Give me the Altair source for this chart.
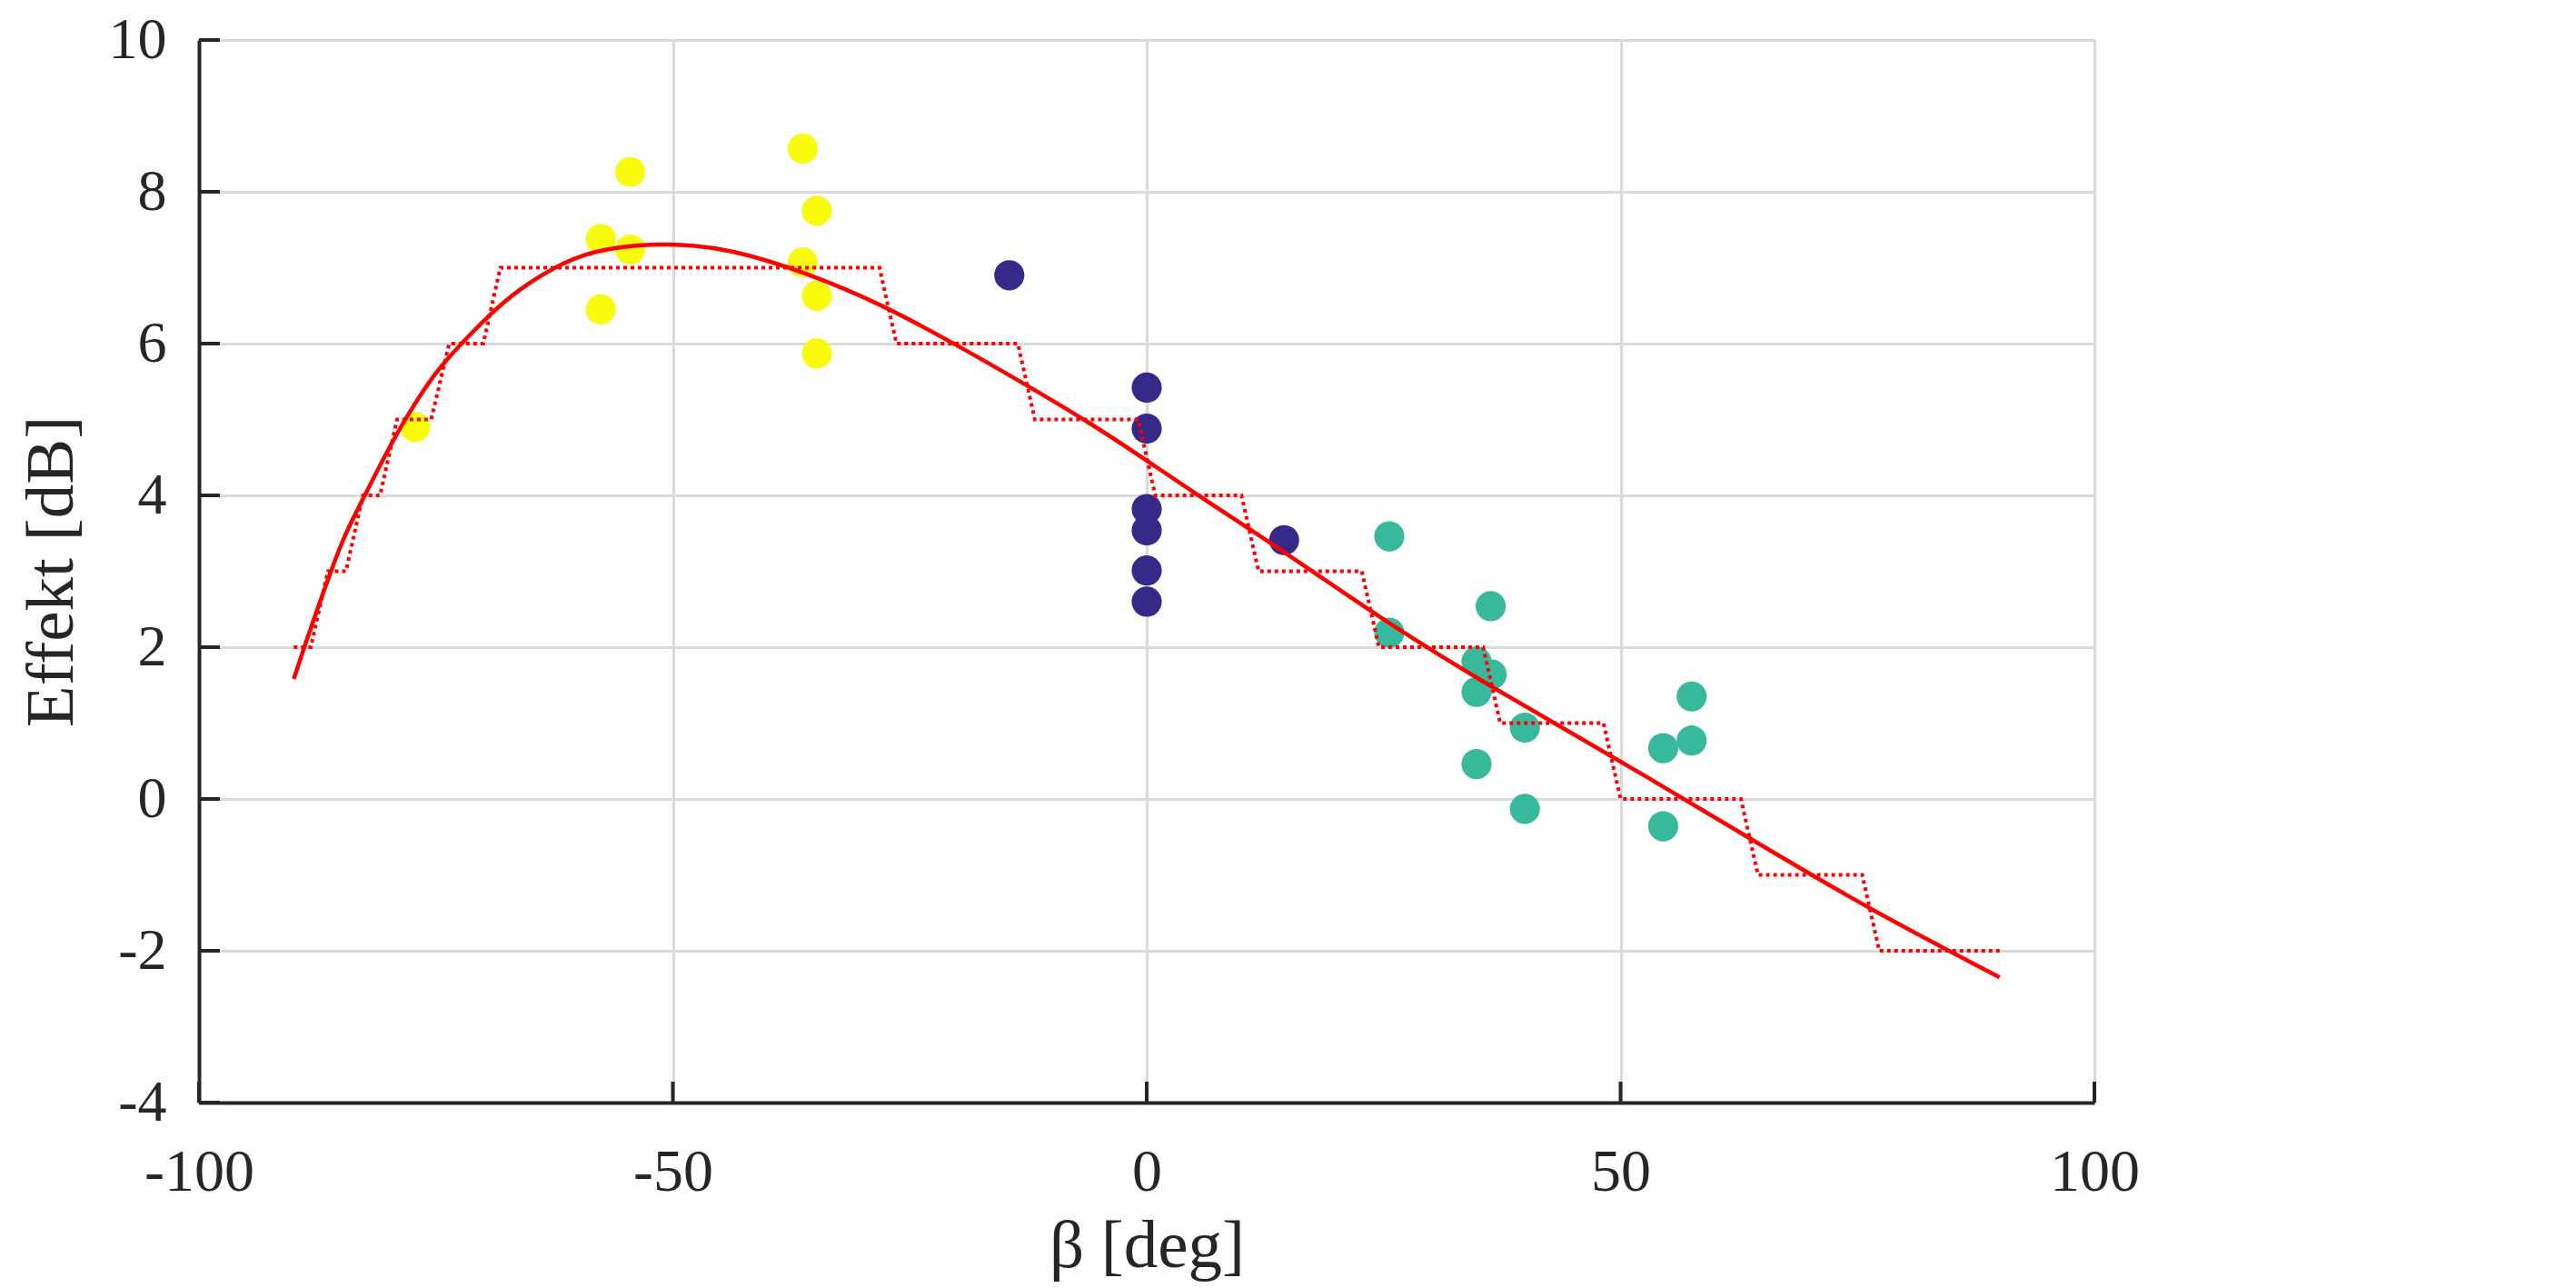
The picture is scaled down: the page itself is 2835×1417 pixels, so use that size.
import altair as alt
import pandas as pd

# ---- data ----
yel_x = [-77.2, -57.6, -57.6, -54.5, -54.5, -36.3, -34.8, -36.3, -34.8, -34.8]
yel_y = [4.90, 7.38, 6.45, 8.26, 7.24, 8.57, 7.75, 7.07, 6.63, 5.87]

blu_x = [-14.5, 0, 0, 0, 0, 0, 0, 14.5]
blu_y = [6.90, 5.42, 4.88, 3.82, 3.54, 3.01, 2.60, 3.41]

tea_x = [25.6, 25.6, 36.3, 34.8, 36.4, 34.8, 39.9, 34.8, 39.9, 57.5, 57.5, 54.5, 54.5]
tea_y = [3.46, 2.19, 2.54, 1.81, 1.64, 1.41, 0.94, 0.46, -0.13, 1.35, 0.77, 0.67, -0.36]

curve_x = [-90, -88.9, -87.4, -86.0, -84.6, -82.5, -80.4, -78.2, -75.0, -72.3, -69.5,
           -66.5, -61.4, -57.3, -50.5, -43.9, -35.8, -28.0, -20.3, -12.9, -5.9, 0,
           5.4, 14.5, 25.6, 36.4, 50, 63.9, 76.2, 90]
curve_y = [1.58, 2.0, 2.54, 3.03, 3.49, 4.0, 4.52, 5.02, 5.64, 6.0, 6.36,
           6.70, 7.09, 7.26, 7.33, 7.25, 6.93, 6.52, 6.0, 5.47, 4.95, 4.46,
           4.0, 3.26, 2.3, 1.47, 0.50, -0.54, -1.45, -2.35]

stair_x = [-90, -88.2, -86.4, -84.5, -82.7, -80.9, -79.1, -75.5, -73.6, -70.0, -68.2,
           -28.2, -26.4, -13.6, -11.8, -0.9, 0.9, 10.0, 11.8, 22.7, 24.5, 35.5, 37.3,
           48.2, 50.0, 62.7, 64.5, 75.5, 77.3, 90]
stair_y = [2, 2, 3, 3, 4, 4, 5, 5, 6, 6, 7, 7, 6, 6, 5, 5, 4, 4, 3, 3, 2, 2, 1, 1,
           0, 0, -1, -1, -2, -2]

x_ticks = [-100, -50, 0, 50, 100]
y_ticks = [-4, -2, 0, 2, 4, 6, 8, 10]

groups = ["A", "B", "C"]
group_colors = ["#F9FB0E", "#352A87", "#38B99E"]

# ---- tables ----
pts = pd.DataFrame({
    "x": yel_x + blu_x + tea_x,
    "y": yel_y + blu_y + tea_y,
    "g": ["A"] * len(yel_x) + ["B"] * len(blu_x) + ["C"] * len(tea_x),
})
curve = pd.DataFrame({"x": curve_x, "y": curve_y})
stairs = pd.DataFrame({"x": stair_x, "y": stair_y})
xt = pd.DataFrame({"x": x_ticks})
yt = pd.DataFrame({"y": y_ticks})

W, H = 2086, 1169
FONT = "Liberation Serif"
INK = "#262626"

xs = alt.Scale(domain=[-100, 100], nice=False, zero=False)
ys = alt.Scale(domain=[-4, 10], nice=False, zero=False)

xaxis = alt.Axis(values=x_ticks, title="β [deg]", grid=True, gridColor="#dadada", gridWidth=3,
                 domainColor=INK, domainWidth=4, ticks=False, labelPadding=44,
                 labelFont=FONT, labelFontSize=66, labelColor=INK, labelFlush=False,
                 labelOverlap=False, labelExpr="'' + datum.value",
                 titleFont=FONT, titleFontSize=75, titleColor=INK, titleFontWeight="normal",
                 titlePadding=12)
yaxis = alt.Axis(values=y_ticks, title="Effekt [dB]", grid=True, gridColor="#dadada", gridWidth=3,
                 domainColor=INK, domainWidth=4, ticks=False, labelPadding=36,
                 labelFont=FONT, labelFontSize=64, labelColor=INK, labelFlush=False,
                 labelOverlap=False, labelExpr="'' + datum.value",
                 titleFont=FONT, titleFontSize=75, titleColor=INK, titleFontWeight="normal",
                 titlePadding=24)

points = alt.Chart(pts).mark_circle(size=1100, opacity=1).encode(
    x=alt.X("x:Q", scale=xs, axis=xaxis),
    y=alt.Y("y:Q", scale=ys, axis=yaxis),
    color=alt.Color("g:N", scale=alt.Scale(domain=groups, range=group_colors), legend=None),
)

stair_line = alt.Chart(stairs).mark_line(color="#ff0000", strokeWidth=4, strokeDash=[4, 4]).encode(
    x=alt.X("x:Q", scale=xs),
    y=alt.Y("y:Q", scale=ys),
)

curve_line = alt.Chart(curve).mark_line(color="#ff0000", strokeWidth=4.5, interpolate="basis").encode(
    x=alt.X("x:Q", scale=xs),
    y=alt.Y("y:Q", scale=ys),
)

yticks = alt.Chart(yt).mark_rule(color=INK, strokeWidth=4).encode(
    y=alt.Y("y:Q", scale=ys),
    x=alt.value(0),
    x2=alt.value(23),
)
xticks = alt.Chart(xt).mark_rule(color=INK, strokeWidth=4).encode(
    x=alt.X("x:Q", scale=xs),
    y=alt.value(H),
    y2=alt.value(H - 23),
)

chart = alt.layer(points, stair_line, curve_line, yticks, xticks).properties(
    width=W, height=H,
    autosize=alt.AutoSizeParams(type="none"),
    padding={"left": 211, "top": 36, "right": 520, "bottom": 200},
).configure_view(stroke=None).configure(background="white")

chart.save("out.html", embed_options={"renderer": "svg", "actions": False})
